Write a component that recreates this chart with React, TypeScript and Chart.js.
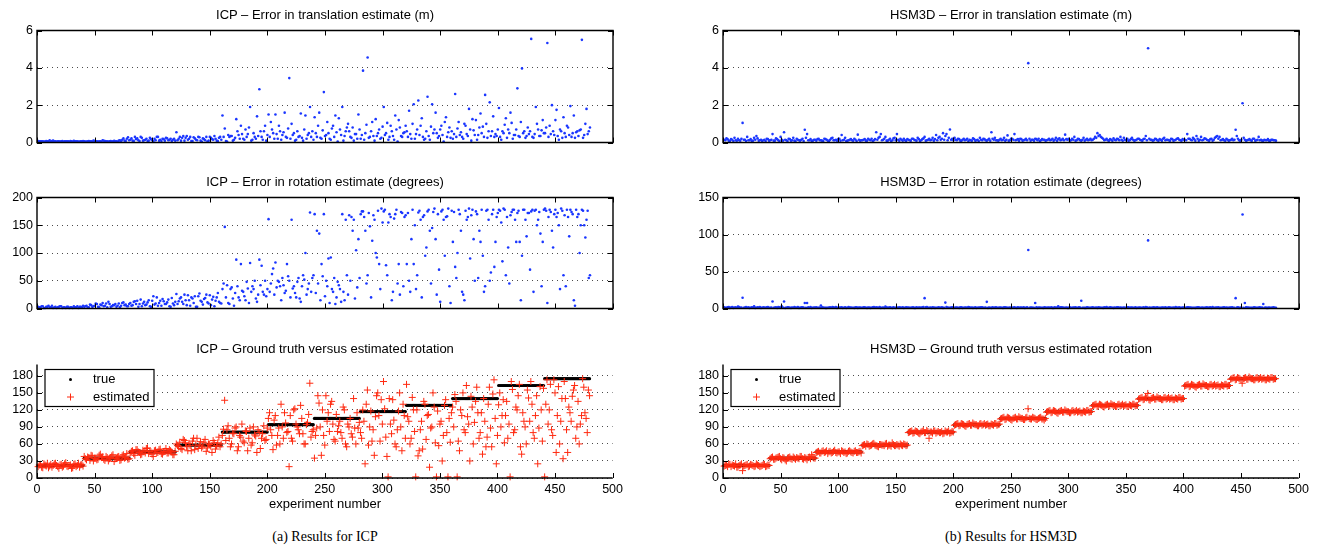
import React, { useEffect, useRef } from 'react';
import { Chart, registerables } from 'chart.js';
Chart.register(...registerables);

const FONT = '"Liberation Sans", Arial, Helvetica, sans-serif';
const SERIF = '"Liberation Serif", "Times New Roman", serif';
const BLUE = '#1a36ff';
const RED = '#ff2a10';

// ---- tick labels ----
const xTicks = [0, 50, 100, 150, 200, 250, 300, 350, 400, 450, 500];
const transTicks = [0, 2, 4, 6];
const icpRotTicks = [0, 50, 100, 150, 200];
const hsmRotTicks = [0, 50, 100, 150];
const gtTicks = [0, 30, 60, 90, 120, 150, 180];

// ---- ground truth: one rotation per block of 40 experiments ----
const trueSteps = [22, 35, 46, 58, 81, 94, 105, 117, 128, 140, 163, 175];
const blockSize = 40;

// ---- odd experiments (1,3,...,479) ----
const icpTransOdd = [
  0.08,0.06,0.07,0.05,0.06,0.12,0.08,0.06,0.05,0.07,0.06,0.05,0.07,0.06,0.08,0.05,0.06,0.07,0.05,0.06,
  0.07,0.05,0.08,0.06,0.1,0.07,0.05,0.06,0.12,0.08,0.06,0.07,0.05,0.09,0.06,0.1,0.07,0.22,0.08,0.28,
  0.15,0.1,0.3,0.22,0.08,0.25,0.12,0.2,0.1,0.18,0.06,0.12,0.3,0.15,0.2,0.1,0.22,0.14,0.08,0.2,
  0.55,0.2,0.1,0.35,0.25,0.15,0.3,0.08,0.22,0.12,0.28,0.05,0.18,0.3,0.1,0.25,0.15,0.2,0.08,0.3,
  1.45,0.75,0.05,0.3,0.35,0.15,1.25,0.4,0.9,0.2,0.7,0.45,1.9,0.15,0.3,1.4,2.85,0.3,0.6,0.1,
  1.5,1.1,0.5,1.5,0.2,0.6,0.4,1.6,0.25,3.45,1.0,0.5,0.15,0.3,1.55,0.1,1.45,0.4,1.9,0.6,
  1.35,0.3,1.6,0.2,2.7,0.4,0.5,0.15,0.9,1.45,0.05,0.7,1.9,0.35,0.8,0.6,0.25,0.1,0.45,1.5,
  0.2,3.85,0.5,4.55,0.3,1.1,0.1,0.35,0.7,0.25,1.9,0.5,0.15,0.9,0.35,1.45,0.05,0.8,0.3,0.55,
  0.6,1.7,0.2,2.05,0.45,2.25,0.9,0.3,0.2,2.45,0.15,2.05,0.7,0.5,0.35,0.9,0.05,1.35,0.55,0.25,
  0.2,2.6,0.75,0.4,0.3,1.0,0.45,1.8,0.1,0.65,1.2,0.4,1.55,0.85,2.55,0.25,2.15,0.6,0.3,0.35,
  1.85,0.15,0.5,1.3,0.7,1.6,0.2,0.4,2.9,0.3,3.97,0.6,0.35,0.45,5.55,0.25,1.9,0.7,0.35,1.2,
  0.5,5.33,0.9,2.0,0.4,1.75,0.15,0.6,1.35,0.3,0.8,1.95,0.5,0.25,0.6,0.65,5.5,0.4,1.8,0.6,
];
// ---- even experiments (2,4,...,480) ----
const icpTransEven = [
  0.06,0.07,0.05,0.08,0.06,0.05,0.1,0.07,0.06,0.05,0.08,0.06,0.07,0.05,0.06,0.09,0.07,0.05,0.06,0.08,
  0.05,0.07,0.06,0.05,0.08,0.06,0.07,0.05,0.09,0.06,0.05,0.08,0.07,0.06,0.05,0.12,0.15,0.1,0.2,0.12,
  0.22,0.08,0.18,0.12,0.3,0.1,0.15,0.08,0.25,0.12,0.2,0.3,0.1,0.08,0.18,0.25,0.12,0.2,0.15,0.1,
  0.12,0.3,0.25,0.1,0.35,0.2,0.08,0.28,0.15,0.3,0.1,0.22,0.12,0.05,0.3,0.18,0.35,0.1,0.25,0.15,
  0.3,0.08,0.4,0.35,0.1,0.25,0.6,0.2,0.45,0.15,0.3,0.8,0.1,0.5,0.2,0.35,0.6,0.15,0.9,0.4,
  0.3,0.7,0.2,0.45,0.9,0.15,0.55,0.3,0.75,0.2,0.4,0.1,0.6,0.35,0.25,0.7,0.2,0.5,0.3,0.15,
  0.5,0.9,0.25,0.65,0.35,1.1,0.2,0.75,0.3,0.55,1.3,0.4,0.1,0.6,1.0,0.3,0.8,0.45,0.2,0.7,
  0.4,0.15,0.95,0.25,0.6,0.35,1.25,0.5,0.2,0.85,0.4,1.05,0.3,0.6,0.15,0.7,1.2,0.35,0.5,0.9,
  0.3,0.45,1.0,0.2,0.7,0.4,1.3,0.15,0.6,0.35,0.85,0.5,1.6,0.25,0.7,0.4,1.1,0.3,0.8,0.6,
  0.45,0.3,1.1,0.55,0.2,0.9,0.35,0.7,1.25,0.4,0.15,0.8,0.5,0.3,1.0,0.6,0.35,1.4,0.45,0.7,
  0.3,0.6,0.95,0.25,0.5,1.05,0.4,0.7,0.35,1.1,0.5,0.25,0.8,0.6,0.3,0.45,1.0,0.35,0.65,0.5,
  0.8,0.3,0.45,0.6,1.2,0.35,0.7,0.25,0.5,0.9,0.4,0.3,1.45,0.55,0.35,0.7,0.25,1.0,0.45,0.8,
];

const icpRotOdd = [
  3,2,4,1,3,2,5,2,1,3,4,2,1,3,2,1,2,4,3,2,
  3,5,2,6,4,9,3,7,10,5,2,8,4,6,3,9,5,11,7,4,
  10,6,13,14,8,4,12,7,15,3,22,9,5,14,17,8,11,4,19,6,
  26,13,20,8,15,24,5,18,22,3,27,12,17,25,9,6,21,14,28,10,
  35,147,42,8,38,5,88,20,80,30,15,36,82,40,50,12,88,77,25,22,
  161,45,72,83,50,40,55,28,80,50,160,40,20,55,12,60,100,35,173,55,
  170,140,135,80,170,50,90,92,30,8,48,35,170,15,60,168,165,160,105,125,
  170,175,140,60,148,122,160,92,80,180,175,78,155,165,30,170,45,25,172,165,
  80,50,125,80,35,173,160,165,95,175,140,145,180,25,70,175,160,165,180,10,
  120,75,100,170,30,15,160,180,168,125,175,55,120,95,40,178,50,170,75,165,
  178,155,180,60,110,168,178,160,172,120,95,178,130,172,175,30,178,160,135,120,
  180,10,178,140,170,165,150,180,60,40,165,178,170,5,165,100,178,150,160,55,
];
const icpRotEven = [
  2,4,1,3,5,2,1,3,2,4,1,2,3,1,2,4,2,1,3,5,
  4,2,7,3,5,8,2,6,4,9,12,3,6,8,5,2,10,6,4,8,
  5,12,8,3,16,9,6,11,4,14,7,20,10,5,13,8,16,3,9,12,
  8,18,12,25,6,15,20,10,3,22,14,7,19,11,24,16,4,20,12,9,
  45,20,10,35,18,28,40,15,32,22,48,10,30,35,18,25,42,30,50,35,
  30,62,25,38,48,15,42,32,58,20,36,28,48,18,40,52,25,45,30,60,
  28,45,15,58,22,40,10,35,55,20,42,12,30,160,25,50,140,18,38,55,
  175,165,45,172,20,168,100,176,35,155,178,60,170,15,162,178,80,174,40,168,
  172,30,178,150,60,176,20,168,110,178,45,174,125,170,12,178,95,166,40,176,
  174,55,178,140,25,176,165,90,178,50,170,140,178,30,176,160,65,178,120,172,
  176,85,178,165,45,174,178,120,176,15,178,160,172,70,178,176,150,174,40,178,
  176,165,174,110,178,172,35,176,168,178,130,174,15,178,170,150,176,128,176,60,
];

const icpEstOdd = [
  20,24,18,23,26,21,19,25,22,17,24,21,27,20,23,18,25,22,19,24,
  38,32,36,40,30,35,33,42,37,31,36,34,39,29,35,38,32,41,36,33,
  44,48,40,50,45,42,47,52,43,46,38,49,45,51,42,47,44,50,46,41,
  60,55,52,68,62,48,57,65,50,70,58,53,63,47,60,56,66,51,62,55,
  75,137,85,70,60,78,90,55,72,65,83,48,88,62,76,45,80,70,92,68,
  105,85,50,110,75,60,90,115,80,20,70,120,95,85,128,78,60,98,167,82,
  35,88,132,40,75,145,115,130,95,65,82,100,70,120,55,90,78,140,60,88,
  80,120,25,155,90,65,40,145,110,138,170,72,2,95,138,60,85,150,48,110,
  165,100,70,120,2,39,85,51,130,110,19,90,125,2,57,100,75,138,2,63,
  125,147,2,48,110,85,163,95,144,60,135,115,80,42,100,72,160,55,173,25,
  129,90,138,110,70,2,156,85,120,165,42,100,60,141,170,80,110,25,161,65,
  2,173,120,85,173,45,161,100,34,140,45,115,144,163,90,60,110,160,105,155,
];
const icpEstEven = [
  23,19,25,21,18,24,22,26,20,23,19,25,21,22,17,24,20,26,23,21,
  34,37,31,39,35,32,40,36,33,38,30,36,41,34,37,31,39,35,43,34,
  47,43,50,46,41,49,44,53,47,42,48,45,50,43,46,52,44,48,41,47,
  57,63,50,66,55,61,48,70,58,52,64,56,68,53,59,45,62,57,72,60,
  86,66,92,55,79,88,48,75,95,62,82,70,58,90,74,85,52,78,66,88,
  115,75,102,58,88,130,70,97,82,110,65,122,90,78,105,60,94,112,72,85,
  75,145,90,120,58,100,82,135,68,112,92,80,125,60,95,105,72,88,115,98,
  70,100,130,58,118,85,108,150,65,95,122,38,140,78,102,55,118,90,130,70,
  108,60,142,82,120,48,100,135,68,112,88,150,62,118,95,30,128,80,105,115,
  90,135,65,120,150,80,108,30,125,98,160,70,115,140,55,130,88,148,105,75,
  150,110,62,135,95,170,80,125,145,55,115,90,155,100,130,70,145,88,120,158,
  130,95,165,75,150,110,60,140,170,85,125,100,155,70,135,95,175,115,80,145,
];

const hsmTransOdd = [
  0.15,0.22,0.1,0.18,0.08,0.12,0.2,0.1,1.05,0.15,0.3,0.12,0.08,0.25,0.35,0.1,0.15,0.12,0.08,0.18,
  0.12,0.45,0.1,0.18,0.08,0.15,0.55,0.12,0.2,0.1,0.25,0.08,0.15,0.1,0.2,0.68,0.45,0.12,0.08,0.15,
  0.1,0.2,0.12,0.08,0.18,0.1,0.15,0.25,0.12,0.1,0.2,0.4,0.15,0.08,0.12,0.18,0.1,0.15,0.42,0.1,
  0.12,0.18,0.1,0.15,0.2,0.12,0.55,0.25,0.45,0.15,0.3,0.1,0.2,0.12,0.25,0.45,0.1,0.15,0.2,0.08,
  0.15,0.1,0.2,0.12,0.25,0.08,0.18,0.3,0.12,0.2,0.15,0.1,0.4,0.25,0.15,0.5,0.35,0.12,0.7,0.2,
  0.25,0.12,0.18,0.1,0.2,0.15,0.08,0.12,0.22,0.1,0.15,0.25,0.12,0.18,0.1,0.2,0.55,0.15,0.12,0.1,
  0.2,0.15,0.1,0.38,0.12,0.2,0.45,0.15,0.1,0.18,0.12,0.2,4.25,0.1,0.15,0.2,0.12,0.08,0.18,0.15,
  0.12,0.2,0.15,0.1,0.25,0.18,0.12,0.2,0.42,0.15,0.1,0.2,0.3,0.12,0.18,0.1,0.25,0.15,0.12,0.2,
  0.15,0.3,0.5,0.4,0.25,0.12,0.2,0.1,0.15,0.22,0.12,0.18,0.3,0.1,0.15,0.2,0.12,0.25,0.1,0.15,
  0.2,0.12,0.18,0.35,5.05,0.15,0.1,0.2,0.12,0.18,0.1,0.25,0.15,0.12,0.2,0.1,0.15,0.22,0.12,0.18,
  0.15,0.45,0.2,0.12,0.18,0.35,0.1,0.3,0.15,0.2,0.12,0.18,0.1,0.25,0.35,0.3,0.15,0.12,0.2,0.1,
  0.15,0.12,0.68,0.2,0.1,2.1,0.15,0.12,0.18,0.1,0.2,0.12,0.3,0.15,0.1,0.12,0.18,0.1,0.15,0.12,
];
const hsmTransEven = [
  0.12,0.18,0.08,0.15,0.25,0.1,0.12,0.2,0.15,0.08,0.12,0.18,0.1,0.15,0.22,0.12,0.08,0.15,0.2,0.1,
  0.15,0.1,0.22,0.12,0.3,0.1,0.15,0.08,0.18,0.12,0.1,0.2,0.12,0.15,0.08,0.25,0.12,0.18,0.1,0.15,
  0.18,0.12,0.1,0.2,0.15,0.08,0.22,0.12,0.15,0.18,0.1,0.12,0.25,0.1,0.15,0.12,0.2,0.08,0.15,0.12,
  0.15,0.1,0.2,0.12,0.08,0.18,0.15,0.3,0.12,0.2,0.1,0.15,0.08,0.22,0.12,0.15,0.2,0.1,0.12,0.18,
  0.12,0.2,0.15,0.1,0.18,0.12,0.22,0.1,0.15,0.12,0.25,0.18,0.12,0.3,0.2,0.15,0.45,0.25,0.15,0.12,
  0.15,0.2,0.1,0.15,0.12,0.2,0.15,0.1,0.18,0.12,0.08,0.15,0.2,0.12,0.15,0.1,0.2,0.25,0.12,0.15,
  0.12,0.25,0.15,0.1,0.2,0.15,0.12,0.18,0.2,0.1,0.15,0.12,0.2,0.15,0.1,0.18,0.2,0.12,0.15,0.1,
  0.15,0.12,0.2,0.15,0.1,0.22,0.15,0.12,0.18,0.2,0.12,0.15,0.1,0.2,0.12,0.15,0.1,0.2,0.15,0.12,
  0.2,0.25,0.35,0.3,0.2,0.15,0.12,0.18,0.1,0.15,0.2,0.12,0.15,0.25,0.12,0.1,0.18,0.15,0.12,0.2,
  0.15,0.1,0.2,0.12,0.2,0.15,0.12,0.18,0.1,0.15,0.2,0.12,0.15,0.1,0.18,0.12,0.2,0.15,0.1,0.15,
  0.12,0.2,0.15,0.25,0.1,0.2,0.15,0.12,0.22,0.15,0.1,0.2,0.15,0.3,0.2,0.12,0.18,0.1,0.15,0.12,
  0.2,0.15,0.35,0.12,0.15,0.25,0.1,0.15,0.12,0.2,0.1,0.15,0.12,0.1,0.15,0.12,0.1,0.15,0.12,0.1,
];

const hsmRotOdd = [
  1.5,1,2,1.2,0.8,1.5,2.5,1,14.5,1.2,1,0.8,1.5,3,1,1.2,0.8,1.5,1,2,
  1,9.5,1.2,0.8,1.5,3,9.5,1,1.5,0.8,1,1.2,2,1,1.5,7.5,7.5,1,0.8,1.2,
  1.5,1,4,1.2,0.8,1,1.5,2,1,0.8,1.2,1.5,1,0.8,2,1.2,1,1.5,0.8,1.2,
  1,1.5,0.8,1.2,1,2,1.5,1,0.8,1.2,2.5,1,1.5,0.8,1,1.2,1.5,1,0.8,1.5,
  1.2,1,1.5,0.8,1,1.2,1.5,14,2,1,0.8,1.2,1,1.5,1,0.8,8,1.2,1,1.5,
  1,1.2,0.8,1.5,1,1.2,2,1,0.8,1.5,1,1.2,1.5,1,9,1.2,0.8,1,1.5,1,
  1.2,0.8,1.5,1,1.2,1,1.5,0.8,1,1.2,1.5,1,79,1.2,1,7.5,0.8,1.2,1,1.5,
  1,1.2,1.5,0.8,1,3,1.5,1.2,1,0.8,1.5,1,1.2,1,1.5,10.5,1,0.8,1.2,1,
  1.5,1,0.8,1.2,1,1.5,2,1,1.2,0.8,1,1.5,1.2,1,0.8,1.5,1,1.2,1,0.8,
  1.2,1,1.5,2,92,1,1.2,0.8,1.5,1,1.2,1,0.8,1.5,1,1.2,2,1,0.8,1.2,
  1,1.5,1.2,0.8,1,1.2,1.5,1,0.8,1.2,1,1.5,2,1,1.2,0.8,1,1.5,1.2,1,
  1.2,1,14,1.5,1,127,7.5,1.2,1,0.8,1.5,1,1.2,1,6,1.2,0.8,1,1.2,1,
];
const hsmRotEven = [
  1,1.5,0.8,2,1.2,1,1.8,1.2,1,2,1.5,1,1.2,0.8,1.5,2,1,1.2,1.5,1,
  1.2,1,1.5,2,1,1.2,0.8,1.5,1,1.2,2,1,0.8,1.5,1.2,1,1.5,2,1,1.2,
  1,1.2,1.5,1,0.8,1.2,1,1.5,2,1,1.2,0.8,1.5,1,1.2,1,0.8,1.5,1.2,1,
  1.5,1,1.2,0.8,1.5,1,1.2,2,1,0.8,1.5,1.2,1,1.5,0.8,1,1.2,1.5,1,1.2,
  1,1.2,0.8,1.5,1.2,1,2,1.5,1,1.2,1.5,0.8,1,1.2,1.5,1,2,1,1.2,0.8,
  1.2,1,1.5,0.8,1.2,1,1.5,1.2,1,0.8,1.2,1.5,1,1.2,0.8,1,1.5,1.2,1,1.2,
  1,1.5,1.2,1,0.8,1.2,1,1.5,1.2,1,0.8,1.5,1,1.2,1,1.5,1.2,1,0.8,1.2,
  1.2,1,0.8,1.5,1.2,1,1.5,1,1.2,0.8,1,1.2,1.5,1,1.2,1,0.8,1.5,1,1.2,
  1,1.2,1.5,1,0.8,1.2,1,1.5,1,1.2,1.5,1,0.8,1.2,1,1.5,1.2,1,1.5,1,
  1.2,1,0.8,1.5,1.2,1,1.5,1.2,1,0.8,1.2,1.5,1,1.2,1,0.8,1.2,1.5,1,1.2,
  1,1.5,1.2,1,0.8,1.5,1,1.2,1,1.5,1.2,0.8,1,1.2,1.5,1,1.2,1,0.8,1.2,
  1.5,1,1.2,0.8,1.2,1,1.5,1.2,1,0.8,1.2,1,1.5,1.2,1,0.8,1.2,1,1.5,1,
];

const hsmEstOdd = [
  21,23,24,20,22,25,19,23,13,22,24,21,23,20,25,22,21,24,20,23,
  34,37,33,36,38,32,35,30,36,34,37,33,35,38,34,36,32,37,41,35,
  45,47,44,48,46,43,47,45,49,44,46,48,45,43,47,46,44,48,45,47,
  57,59,60,56,58,61,57,55,59,58,60,56,58,62,57,59,56,58,60,57,
  80,82,79,83,81,78,82,80,84,70,81,83,79,82,80,78,83,81,79,82,
  93,95,92,96,94,91,95,93,97,94,92,95,93,96,94,92,95,93,96,94,
  104,106,103,107,105,102,106,104,108,105,103,106,122,104,107,105,103,106,104,102,
  116,118,115,119,117,114,118,116,120,117,115,118,116,119,117,115,118,116,119,117,
  127,129,126,130,128,125,129,127,131,128,126,129,127,130,128,126,129,127,130,128,
  139,141,138,142,149,137,141,139,143,140,138,141,139,142,140,138,141,139,142,140,
  162,164,161,165,163,160,164,162,166,163,161,164,162,165,163,161,164,162,165,163,
  174,176,173,177,175,167,176,174,178,175,173,176,174,177,175,173,176,174,177,175,
];
const hsmEstEven = [
  22,20,24,23,21,19,22,25,21,23,20,24,22,21,23,20,22,24,21,22,
  36,33,35,37,34,36,32,35,37,33,35,36,34,38,33,35,36,34,37,35,
  46,44,47,45,48,46,44,47,45,46,43,47,46,44,48,45,47,45,46,44,
  58,56,59,57,60,58,56,59,58,57,61,58,56,59,57,58,60,57,59,58,
  81,83,80,82,79,81,84,80,82,81,79,83,81,80,82,79,81,83,80,81,
  94,96,93,95,92,94,96,93,95,94,92,96,94,93,95,92,94,96,93,95,
  105,107,104,106,103,105,107,104,106,105,103,107,105,104,106,103,105,107,104,105,
  117,119,116,118,115,117,119,116,118,117,115,119,117,116,118,115,117,119,116,117,
  128,130,127,129,126,128,130,127,129,128,126,130,128,127,129,126,128,130,127,128,
  140,142,139,141,138,140,142,139,141,140,138,142,140,139,141,138,140,142,139,140,
  163,165,162,164,161,163,165,162,164,163,161,165,163,162,164,161,163,165,162,163,
  175,177,174,176,173,175,177,174,176,175,173,177,175,174,176,173,175,177,174,175,
];

const allExperiments = Array.from({ length: trueSteps.length * blockSize }, (_, i) => i + 1);

const toPoints = (odd: number[], even: number[]) =>
  odd.flatMap((y, i) => [
    { x: 2 * i + 1, y },
    { x: 2 * i + 2, y: even[i] },
  ]);
const truePoints = allExperiments.map((e) => ({ x: e, y: trueSteps[Math.floor((e - 1) / blockSize)] }));

const TL = 5;

function makeFrame(box: boolean, legend: boolean, yTicks: number[]) {
  return {
    id: 'frame',
    afterDatasetsDraw(chart: any) {
      const { ctx, chartArea: a, scales } = chart;
      const xs = scales.x;
      const ys = scales.y;
      ctx.save();
      ctx.strokeStyle = '#000';
      ctx.lineWidth = 1;
      ctx.beginPath();
      for (const v of xTicks) {
        const px = Math.round(xs.getPixelForValue(v)) + 0.5;
        ctx.moveTo(px, a.bottom);
        ctx.lineTo(px, a.bottom - TL);
        if (box) {
          ctx.moveTo(px, a.top);
          ctx.lineTo(px, a.top + TL);
        }
      }
      for (const v of yTicks) {
        const py = Math.round(ys.getPixelForValue(v)) + 0.5;
        ctx.moveTo(a.left, py);
        ctx.lineTo(a.left + TL, py);
        if (box) {
          ctx.moveTo(a.right, py);
          ctx.lineTo(a.right - TL, py);
        }
      }
      ctx.stroke();
      ctx.lineWidth = 1.4;
      ctx.beginPath();
      if (box) {
        ctx.rect(a.left, a.top, a.right - a.left, a.bottom - a.top);
      } else {
        ctx.moveTo(a.left, a.top);
        ctx.lineTo(a.left, a.bottom);
        ctx.lineTo(a.right, a.bottom);
      }
      ctx.stroke();
      if (legend) {
        const lx = a.left + 8;
        const ly = a.top + 5;
        const lw = 109;
        const lh = 37;
        ctx.fillStyle = '#fff';
        ctx.fillRect(lx, ly, lw, lh);
        ctx.lineWidth = 1.2;
        ctx.strokeStyle = '#000';
        ctx.strokeRect(lx, ly, lw, lh);
        ctx.fillStyle = '#000';
        ctx.beginPath();
        ctx.arc(lx + 25.5, ly + 10, 1.5, 0, Math.PI * 2);
        ctx.fill();
        ctx.strokeStyle = RED;
        ctx.lineWidth = 1;
        ctx.beginPath();
        ctx.moveTo(lx + 22, ly + 27.5);
        ctx.lineTo(lx + 29, ly + 27.5);
        ctx.moveTo(lx + 25.5, ly + 24);
        ctx.lineTo(lx + 25.5, ly + 31);
        ctx.stroke();
        ctx.fillStyle = '#000';
        ctx.font = `13px ${FONT}`;
        ctx.textBaseline = 'middle';
        ctx.textAlign = 'left';
        ctx.fillText('true', lx + 48, ly + 10);
        ctx.fillText('estimated', lx + 48, ly + 28);
      }
      ctx.restore();
    },
  };
}

type PanelProps = {
  left: number;
  top: number;
  areaH: number;
  yMax: number;
  yTicks: number[];
  showX: boolean;
  box: boolean;
  legend: boolean;
  datasets: any[];
};

const AREA_W = 576;
const Y_W = 37;
const PAD_T = 10;
const PAD_R = 14;

function Panel(p: PanelProps) {
  const ref = useRef<HTMLCanvasElement>(null);
  const padB = p.showX ? 0 : 10;
  const xH = p.showX ? 24 : 0;
  const width = Y_W + AREA_W + PAD_R;
  const height = PAD_T + p.areaH + xH + padB;
  useEffect(() => {
    if (!ref.current) return;
    const chart = new Chart(ref.current, {
      type: 'scatter',
      data: { datasets: p.datasets },
      options: {
        responsive: false,
        animation: false,
        devicePixelRatio: 1,
        events: [],
        layout: { padding: { left: 0, top: PAD_T, right: PAD_R, bottom: padB } },
        plugins: { legend: { display: false }, tooltip: { enabled: false }, title: { display: false } },
        scales: {
          x: {
            type: 'linear',
            min: 0,
            max: 500,
            grid: { display: false, drawTicks: false },
            border: { display: false },
            ticks: {
              display: p.showX,
              font: { family: FONT, size: 12.5 },
              color: '#000',
              padding: 4,
              maxRotation: 0,
              autoSkip: false,
            },
            afterBuildTicks: (ax: any) => {
              ax.ticks = xTicks.map((v) => ({ value: v }));
            },
            afterFit: (ax: any) => {
              ax.height = xH;
            },
          },
          y: {
            type: 'linear',
            min: 0,
            max: p.yMax,
            grid: { display: true, color: 'rgba(0,0,0,0.7)', lineWidth: 1, drawTicks: false },
            border: { display: false, dash: [1, 4] },
            ticks: { font: { family: FONT, size: 12.5 }, color: '#000', padding: 4 },
            afterBuildTicks: (ax: any) => {
              ax.ticks = p.yTicks.map((v) => ({ value: v }));
            },
            afterFit: (ax: any) => {
              ax.width = Y_W;
            },
          },
        },
      },
      plugins: [makeFrame(p.box, p.legend, p.yTicks)],
    } as any);
    return () => chart.destroy();
  }, []);
  return (
    <canvas
      ref={ref}
      width={width}
      height={height}
      style={{ position: 'absolute', left: p.left - Y_W, top: p.top - PAD_T, width, height }}
    />
  );
}

const blueSet = (odd: number[], even: number[]) => ({
  data: toPoints(odd, even),
  pointRadius: 1.3,
  pointHoverRadius: 0,
  pointBackgroundColor: BLUE,
  pointBorderWidth: 0,
  clip: false,
});

const gtSets = (odd: number[], even: number[]) => [
  {
    label: 'true',
    data: truePoints,
    pointRadius: 1.6,
    pointHoverRadius: 0,
    pointBackgroundColor: '#000',
    pointBorderWidth: 0,
    clip: false,
    order: 2,
  },
  {
    label: 'estimated',
    data: toPoints(odd, even),
    pointStyle: 'cross',
    pointRadius: 3.5,
    pointHoverRadius: 0,
    pointBorderColor: RED,
    pointBorderWidth: 1,
    clip: false,
    order: 1,
  },
];

const COLS = [37, 723];
const ROWS = [
  { top: 29, h: 115, titleY: 15 },
  { top: 196, h: 114, titleY: 182 },
  { top: 363, h: 115, titleY: 349 },
];

function Text({ x, y, w, children, size = 13, family = FONT }: any) {
  return (
    <div
      style={{
        position: 'absolute',
        left: x,
        top: y - 9,
        width: w,
        height: 18,
        lineHeight: '18px',
        textAlign: 'center',
        fontFamily: family,
        fontSize: size,
        color: '#000',
        whiteSpace: 'nowrap',
      }}
    >
      {children}
    </div>
  );
}

export default function App() {
  return (
    <div style={{ position: 'absolute', left: 0, top: 0, width: 1321, height: 553, background: '#fff', overflow: 'hidden' }}>
      <Panel left={COLS[0]} top={ROWS[0].top} areaH={ROWS[0].h} yMax={6} yTicks={transTicks} showX={false} box legend={false} datasets={[blueSet(icpTransOdd, icpTransEven)]} />
      <Panel left={COLS[0]} top={ROWS[1].top} areaH={ROWS[1].h} yMax={200} yTicks={icpRotTicks} showX={false} box legend={false} datasets={[blueSet(icpRotOdd, icpRotEven)]} />
      <Panel left={COLS[0]} top={ROWS[2].top} areaH={ROWS[2].h} yMax={200} yTicks={gtTicks} showX box={false} legend datasets={gtSets(icpEstOdd, icpEstEven)} />
      <Panel left={COLS[1]} top={ROWS[0].top} areaH={ROWS[0].h} yMax={6} yTicks={transTicks} showX={false} box legend={false} datasets={[blueSet(hsmTransOdd, hsmTransEven)]} />
      <Panel left={COLS[1]} top={ROWS[1].top} areaH={ROWS[1].h} yMax={150} yTicks={hsmRotTicks} showX={false} box legend={false} datasets={[blueSet(hsmRotOdd, hsmRotEven)]} />
      <Panel left={COLS[1]} top={ROWS[2].top} areaH={ROWS[2].h} yMax={200} yTicks={gtTicks} showX box={false} legend datasets={gtSets(hsmEstOdd, hsmEstEven)} />

      <Text x={COLS[0]} y={ROWS[0].titleY} w={AREA_W}>ICP – Error in translation estimate (m)</Text>
      <Text x={COLS[0]} y={ROWS[1].titleY} w={AREA_W}>ICP – Error in rotation estimate (degrees)</Text>
      <Text x={COLS[0]} y={ROWS[2].titleY} w={AREA_W}>ICP – Ground truth versus estimated rotation</Text>
      <Text x={COLS[1]} y={ROWS[0].titleY} w={AREA_W}>HSM3D – Error in translation estimate (m)</Text>
      <Text x={COLS[1]} y={ROWS[1].titleY} w={AREA_W}>HSM3D – Error in rotation estimate (degrees)</Text>
      <Text x={COLS[1]} y={ROWS[2].titleY} w={AREA_W}>HSM3D – Ground truth versus estimated rotation</Text>

      <Text x={COLS[0]} y={504} w={AREA_W}>experiment number</Text>
      <Text x={COLS[1]} y={504} w={AREA_W}>experiment number</Text>

      <Text x={COLS[0]} y={537} w={AREA_W} size={14} family={SERIF}>(a) Results for ICP</Text>
      <Text x={COLS[1]} y={537} w={AREA_W} size={14} family={SERIF}>(b) Results for HSM3D</Text>
    </div>
  );
}
